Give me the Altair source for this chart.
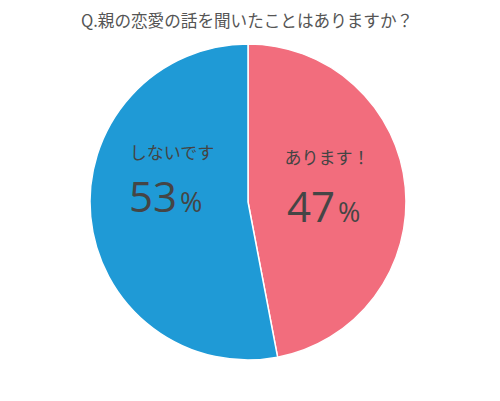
import altair as alt
import pandas as pd

categories = ["あります！", "しないです"]
values = [47, 53]
colors = ["#F26D7D", "#1F9AD6"]
title_text = "Q.親の恋愛の話を聞いたことはありますか？"

df = pd.DataFrame({"cat": categories, "val": values, "ord": [0, 1]})
df["num"] = df["val"].astype(str)

FONT = "Noto Sans CJK JP"
CX, CY, R = 240, 194, 158

base = alt.Chart(df)

pie = base.mark_arc(stroke="white", strokeWidth=1.5, radius=R).encode(
    theta=alt.Theta("val:Q", stack=True),
    order=alt.Order("ord:Q"),
    color=alt.Color("cat:N", scale=alt.Scale(domain=categories, range=colors), legend=None),
    x=alt.value(CX),
    y=alt.value(CY),
)

title = alt.Chart(pd.DataFrame({"t": [title_text]})).mark_text(
    font=FONT, fontSize=16.6, color="#555555", align="center", baseline="middle"
).encode(text="t:N", x=alt.value(239), y=alt.value(14))

def label(cat, lx, ly, nx, ny):
    sub = base.transform_filter(alt.datum.cat == cat)
    name = sub.mark_text(font=FONT, fontSize=17, color="#444444", align="center", baseline="middle").encode(
        text="cat:N", x=alt.value(lx), y=alt.value(ly))
    num = sub.mark_text(font="Open Sans", fontSize=42, color="#454545", align="right", baseline="alphabetic").encode(
        text="num:N", x=alt.value(nx), y=alt.value(ny))
    pct = sub.mark_text(font="Open Sans", fontSize=27, color="#454545", align="left", baseline="alphabetic").encode(
        text=alt.value("%"), x=alt.value(nx + 3), y=alt.value(ny))
    return name + num + pct

chart = alt.layer(
    pie,
    title,
    label("しないです", 164, 146, 169, 204),
    label("あります！", 319, 151, 327, 214),
).properties(
    width=480, height=380, padding=0,
    autosize=alt.AutoSizeParams(type="fit", contains="padding"),
).configure_view(strokeWidth=0, stroke="transparent")

chart.save("out.html", embed_options={"renderer": "svg", "actions": False})
